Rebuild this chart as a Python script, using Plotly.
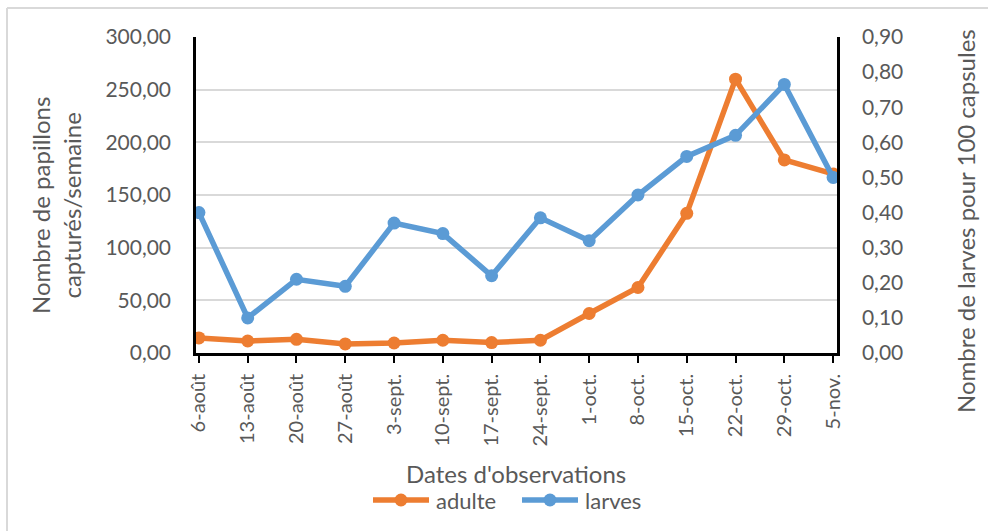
import plotly.graph_objects as go

# Weekly observation dates
dates = ["6-août", "13-août", "20-août", "27-août", "3-sept.", "10-sept.", "17-sept.",
         "24-sept.", "1-oct.", "8-oct.", "15-oct.", "22-oct.", "29-oct.", "5-nov."]

# Moths caught per week (left axis)
adulte = [14.3, 11.4, 13.0, 8.6, 9.5, 12.1, 9.9, 12.1, 37.5, 62.2, 132.6, 260.0, 183.3, 170.0]

# Larvae per 100 capsules (right axis)
larves = [0.40, 0.10, 0.21, 0.19, 0.37, 0.34, 0.22, 0.385, 0.32, 0.45, 0.56, 0.62, 0.765, 0.50]

W, H = 988, 531
ML, MR, MT, MB = 196, 151, 37, 178
PW, PH = W - ML - MR, H - MT - MB

def px(x):
    return (x - ML) / PW

def py(y):
    return (H - MB - y) / PH

GREY = "#595959"
FONT = "Lato"
ORANGE = "#ED7D31"
BLUE = "#5B9BD5"
LW = 5.5
MS = 13

fig = go.Figure()
fig.add_trace(go.Scatter(
    x=dates, y=adulte, name="adulte", mode="lines+markers",
    line=dict(color=ORANGE, width=LW), marker=dict(color=ORANGE, size=MS),
    yaxis="y", showlegend=False))
fig.add_trace(go.Scatter(
    x=dates, y=larves, name="larves", mode="lines+markers",
    line=dict(color=BLUE, width=LW), marker=dict(color=BLUE, size=MS),
    yaxis="y2", showlegend=False))

# Legend drawn below the axis title: line sample, dot, then series name
legend_items = [("adulte", ORANGE, 373), ("larves", BLUE, 522)]
LEG_Y = 500
shapes = []
annotations = []
for label, color, x0 in legend_items:
    shapes.append(dict(type="line", xref="paper", yref="paper",
                       x0=px(x0), x1=px(x0 + 56), y0=py(LEG_Y), y1=py(LEG_Y),
                       line=dict(color=color, width=LW)))
    shapes.append(dict(type="circle", xref="paper", yref="paper",
                       x0=px(x0 + 21.5), x1=px(x0 + 34.5), y0=py(LEG_Y - 6.5), y1=py(LEG_Y + 6.5),
                       fillcolor=color, line=dict(color=color, width=0)))
    annotations.append(dict(text=label, xref="paper", yref="paper",
                            x=px(x0 + 61), y=py(LEG_Y), xanchor="left", yanchor="middle",
                            showarrow=False, font=dict(family=FONT, color=GREY, size=22)))

# Chart frame (left and top edges)
shapes += [
    dict(type="line", xref="paper", yref="paper",
         x0=px(7), x1=px(7), y0=py(8), y1=py(H + 5),
         line=dict(color="#d9d9d9", width=2)),
    dict(type="line", xref="paper", yref="paper",
         x0=px(7), x1=px(W + 5), y0=py(8), y1=py(8),
         line=dict(color="#d9d9d9", width=2)),
]

annotations += [
    dict(text="Dates d'observations", xref="paper", yref="paper",
         x=px(516), y=py(473), xanchor="center", yanchor="middle",
         showarrow=False, font=dict(family=FONT, color=GREY, size=24)),
    dict(text="Nombre de papillons<br>capturés/semaine", xref="paper", yref="paper",
         x=px(56), y=py(206), xanchor="center", yanchor="middle", textangle=-90,
         showarrow=False, font=dict(family=FONT, color=GREY, size=24)),
    dict(text="Nombre de larves pour 100 capsules", xref="paper", yref="paper",
         x=px(965), y=py(221), xanchor="center", yanchor="middle", textangle=-90,
         showarrow=False, font=dict(family=FONT, color=GREY, size=24)),
]

fig.update_layout(
    width=W, height=H,
    margin=dict(l=ML, r=MR, t=MT, b=MB, pad=0),
    paper_bgcolor="white", plot_bgcolor="white",
    separators=", ",
    font=dict(family=FONT, color=GREY, size=21),
    showlegend=False,
    xaxis=dict(
        type="category", categoryorder="array", categoryarray=dates,
        range=[-0.06, 13.08], tickangle=-90,
        showline=True, linecolor="black", linewidth=2.5,
        ticks="outside", ticklen=7, tickwidth=2, tickcolor="black",
        showgrid=False, zeroline=False, ticklabelstandoff=3,
        tickfont=dict(family=FONT, color=GREY, size=20),
    ),
    yaxis=dict(
        range=[0, 300], dtick=50, tickformat=".2f",
        showline=True, linecolor="black", linewidth=2.5,
        showgrid=True, gridcolor="#d9d9d9", gridwidth=2,
        zeroline=False, ticks="", ticklabelstandoff=18,
        tickfont=dict(family=FONT, color=GREY, size=21),
    ),
    yaxis2=dict(
        range=[0, 0.9], dtick=0.1, tickformat=".2f",
        overlaying="y", side="right",
        showline=True, linecolor="black", linewidth=2.5,
        showgrid=False, zeroline=False, ticks="", ticklabelstandoff=18,
        tickfont=dict(family=FONT, color=GREY, size=21),
    ),
    annotations=annotations,
    shapes=shapes,
)

fig.write_html("out.html")
